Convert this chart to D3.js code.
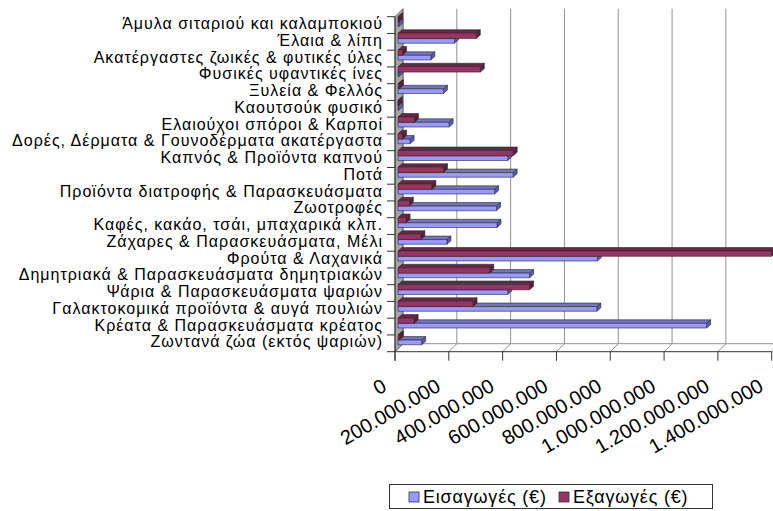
<!DOCTYPE html>
<html lang="el">
<head>
<meta charset="UTF-8">
<title>Εισαγωγές - Εξαγωγές</title>
<style>
    body{ margin:0; background:#fff; }
    svg text{ font-family:"Liberation Sans", Arial, sans-serif; fill:#000; }
</style>
</head>
<body>
<div id="chart"></div>
<script src="https://cdn.jsdelivr.net/npm/d3@7/dist/d3.min.js"></script>
<script>
    // categories, top to bottom as in the picture
    var categories = [
        "Άμυλα σιταριού και καλαμποκιού",
        "Έλαια & λίπη",
        "Ακατέργαστες ζωικές & φυτικές ύλες",
        "Φυσικές υφαντικές ίνες",
        "Ξυλεία & Φελλός",
        "Καουτσούκ φυσικό",
        "Ελαιούχοι σπόροι & Καρποί",
        "Δορές, Δέρματα & Γουνοδέρματα ακατέργαστα",
        "Καπνός & Προϊόντα καπνού",
        "Ποτά",
        "Προϊόντα διατροφής & Παρασκευάσματα",
        "Ζωοτροφές",
        "Καφές, κακάο, τσάι, μπαχαρικά κλπ.",
        "Ζάχαρες & Παρασκευάσματα, Μέλι",
        "Φρούτα & Λαχανικά",
        "Δημητριακά & Παρασκευάσματα δημητριακών",
        "Ψάρια & Παρασκευάσματα ψαριών",
        "Γαλακτοκομικά προϊόντα & αυγά πουλιών",
        "Κρέατα & Παρασκευάσματα κρέατος",
        "Ζωντανά ζώα (εκτός ψαριών)"
    ];
    // Εισαγωγές (€)
    var importVals = [3e6, 210e6, 122e6, 3e6, 169e6, 2e6, 190e6, 45e6, 408e6, 428e6,
                      359e6, 366e6, 368e6, 182e6, 741e6, 489e6, 408e6, 739e6, 1147e6, 88e6];
    // Εξαγωγές (€)
    var exportVals = [2e6, 291e6, 17e6, 306e6, 5e6, 1e6, 61e6, 17e6, 428e6, 169e6,
                      126e6, 42e6, 30e6, 85e6, 1388e6, 341e6, 489e6, 279e6, 60e6, 5e6];
    var tickValues = [0, 200e6, 400e6, 600e6, 800e6, 1000e6, 1200e6, 1400e6];
    var seriesNames = ["Εισαγωγές (€)", "Εξαγωγές (€)"];

    var W = 773, H = 511;
    var pLeft = 395, pRight = 771.7, pTop = 16.7, pBottom = 351.7;
    var depth = 8;            // wall / floor depth
    var bdx = 4, bdy = -3.5;  // bar depth
    var bOff = 3;             // bars sit a bit behind the front edge

    var svg = d3.select("#chart").append("svg")
        .attr("width", W)
        .attr("height", H);

    var x = d3.scaleLinear().domain([0, 1400e6]).range([pLeft, pRight]);
    var y = d3.scaleBand().domain(categories).range([pTop, pBottom]);

    var loc = d3.formatLocale({decimal: ",", thousands: ".", grouping: [3], currency: ["", "€"]});
    var fmt = loc.format(",");

    // floor + back gridlines
    var grid = svg.append("g");
    tickValues.forEach(function(t){
        grid.append("path")
            .attr("d", "M" + x(t) + "," + pBottom + "L" + (x(t) + depth) + "," + (pBottom - depth) +
                       "L" + (x(t) + depth) + "," + (pTop - depth))
            .attr("fill", "none")
            .attr("stroke", "#929292")
            .attr("stroke-width", 1);
    });
    grid.append("line")
        .attr("x1", pLeft + depth).attr("x2", W)
        .attr("y1", pBottom - depth).attr("y2", pBottom - depth)
        .attr("stroke", "#929292");

    // left wall
    svg.append("path")
        .attr("d", "M" + pLeft + "," + pBottom + "L" + pLeft + "," + pTop + "L" + (pLeft + depth) + "," + (pTop - depth) +
                   "L" + (pLeft + depth) + "," + (pBottom - depth) + "Z")
        .attr("fill", "#a6a6a6")
        .attr("stroke", "#555")
        .attr("stroke-width", 0.8);

    // bars
    var colors = [
        {front: "#9999ff", top: "#7373c8", side: "#5c5cab"},
        {front: "#993366", top: "#6e2449", side: "#5a1d3c"}
    ];

    function bar(g, v, yy, hh, c){
        var x0 = x(0) + bOff, x1 = x(v) + bOff;
        g.append("path")
            .attr("d", "M" + x0 + "," + yy + "L" + (x0 + bdx) + "," + (yy + bdy) + "L" + (x1 + bdx) + "," + (yy + bdy) +
                       "L" + x1 + "," + yy + "Z")
            .attr("fill", c.top);
        g.append("path")
            .attr("d", "M" + x1 + "," + yy + "L" + (x1 + bdx) + "," + (yy + bdy) + "L" + (x1 + bdx) + "," + (yy + hh + bdy) +
                       "L" + x1 + "," + (yy + hh) + "Z")
            .attr("fill", c.side);
        g.append("rect")
            .attr("x", x0).attr("y", yy)
            .attr("width", x1 - x0).attr("height", hh)
            .attr("fill", c.front);
        g.selectAll("path, rect")
            .attr("stroke", "#2a2a2a")
            .attr("stroke-width", 0.6)
            .attr("stroke-linejoin", "round");
    }

    var bars = svg.append("g");
    for (var i = categories.length - 1; i >= 0; i--) {
        var yt = y(categories[i]);
        bar(bars.append("g"), importVals[i], yt + 5.1, 4.7, colors[0]);
        bar(bars.append("g"), exportVals[i], yt - 0.2, 5.3, colors[1]);
    }

    // category axis
    var yAxis = svg.append("g");
    yAxis.append("line")
        .attr("x1", pLeft).attr("x2", pLeft)
        .attr("y1", pTop).attr("y2", pBottom + 9)
        .attr("stroke", "#333");
    var bounds = categories.map(function(c){ return y(c); }).concat([pBottom]);
    yAxis.selectAll(".tk").data(bounds).enter().append("line")
        .attr("x1", pLeft - 8).attr("x2", pLeft)
        .attr("y1", function(d){ return d; }).attr("y2", function(d){ return d; })
        .attr("stroke", "#333");
    yAxis.selectAll("text").data(categories).enter().append("text")
        .attr("x", 383)
        .attr("y", function(d){ return y(d) + y.bandwidth() / 2 + 4; })
        .attr("text-anchor", "end")
        .style("font-size", "16px")
        .style("letter-spacing", "1px")
        .text(function(d){ return d; });

    // value axis
    var xAxis = svg.append("g");
    xAxis.append("line")
        .attr("x1", pLeft).attr("x2", pRight)
        .attr("y1", pBottom).attr("y2", pBottom)
        .attr("stroke", "#333");
    xAxis.selectAll(".tk").data(tickValues).enter().append("line")
        .attr("x1", function(d){ return x(d); }).attr("x2", function(d){ return x(d); })
        .attr("y1", pBottom).attr("y2", pBottom + 9)
        .attr("stroke", "#333");
    xAxis.selectAll("text").data(tickValues).enter().append("text")
        .attr("text-anchor", "end")
        .attr("transform", function(d){ return "translate(" + (x(d) - 7) + ",390) rotate(-30)"; })
        .style("font-size", "20px")
        .text(function(d){ return fmt(d); });

    // legend
    var lg = svg.append("g");
    lg.append("rect")
        .attr("x", 389.5).attr("y", 484.5)
        .attr("width", 323).attr("height", 24)
        .attr("fill", "#fff")
        .attr("stroke", "#333");
    var lx = [409, 559];
    seriesNames.forEach(function(n, k){
        lg.append("rect")
            .attr("x", lx[k]).attr("y", 492)
            .attr("width", 10).attr("height", 10)
            .attr("fill", colors[k].front)
            .attr("stroke", "#333")
            .attr("stroke-width", 0.8);
        lg.append("text")
            .attr("x", lx[k] + 14).attr("y", 503)
            .style("font-size", "18px")
            .style("letter-spacing", "0.8px")
            .text(n);
    });
</script>
</body>
</html>
